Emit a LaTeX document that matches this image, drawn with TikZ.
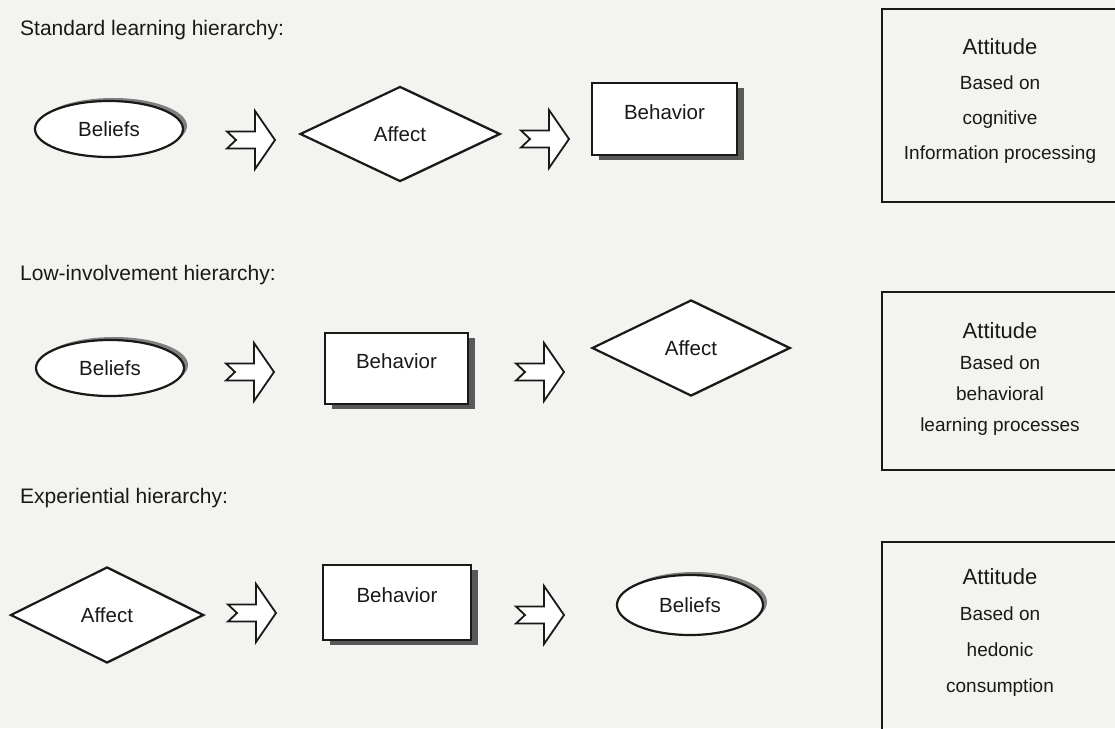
\documentclass[tikz,border=0pt]{standalone}
\usepackage{fontspec}
\setmainfont{Liberation Sans}
\usetikzlibrary{shapes.geometric,shadows}
\definecolor{paper}{RGB}{243,243,240}
\definecolor{ink}{RGB}{25,25,25}
\begin{document}
\begin{tikzpicture}[x=1pt,y=-1pt,
  every node/.style={text=ink},
  shapetext/.style={font=\fontsize{20.5}{24}\selectfont},
  title/.style={anchor=west, inner sep=0pt, font=\fontsize{21}{25}\selectfont},
  outl/.style={draw=ink, line width=2.2pt, fill=white},
  ovalbox/.style={outl, shapetext, ellipse, inner sep=0pt,
    minimum width=148pt, minimum height=56pt,
    drop shadow={shadow xshift=4pt, shadow yshift=3pt, fill=black!50, opacity=1}},
  rhombus/.style={outl, shapetext, diamond, inner sep=0pt, aspect=2,
    minimum width=200pt, minimum height=95pt,
    drop shadow={shadow xshift=3pt, shadow yshift=0pt, fill=black!45, opacity=1}},
  rectbox/.style={outl, shapetext, rectangle, inner sep=0pt,
    minimum width=145pt, minimum height=72pt, text depth=14pt,
    drop shadow={shadow xshift=7pt, shadow yshift=-5pt, fill=black!65, opacity=1}},
  attbox/.style={draw=ink, line width=2.2pt, rectangle, inner sep=0pt,
    minimum width=236pt},
  atttext/.style={align=center, inner sep=0pt},
  notcharrow/.pic={
    \draw[draw=ink, line width=1.8pt, fill=white, line join=miter]
      (-24,-8.5) -- (4,-8.5) -- (4,-29) -- (24,0) -- (4,29) -- (4,8.5)
      -- (-24,8.5) -- (-15,0) -- cycle;}
]
% paper and page frame
\fill[paper] (0,0) rectangle (1115,728);
\useasboundingbox (0,0) rectangle (1115,728);

% ---------- standard learning hierarchy ----------
\node[title] (h1) at (20,30) {Standard learning hierarchy:};
\node[ovalbox] (s1) at (109,129) {Beliefs};
\pic (sa1) at (251,140) {notcharrow};
\node[rhombus] (s2) at (400,134) {Affect};
\pic (sa2) at (545,139) {notcharrow};
\node[rectbox] (s3) at (664.5,119) {Behavior};
\node[attbox, minimum height=193pt] (k1) at (1000,105.5) {};
\node[atttext, font=\fontsize{19}{35}\selectfont] (k1t) at (1000,101)
  {{\fontsize{22}{35}\selectfont Attitude}\\ Based on\\ cognitive\\ Information processing};

% ---------- low-involvement hierarchy ----------
\node[title] (h2) at (20,275) {Low-involvement hierarchy:};
\node[ovalbox] (l1) at (110,368) {Beliefs};
\pic (la1) at (250,372) {notcharrow};
\node[rectbox, minimum width=143pt, minimum height=71pt] (l2) at (396.5,368.5) {Behavior};
\pic (la2) at (540,372) {notcharrow};
\node[rhombus, minimum width=198pt, minimum height=96pt] (l3) at (691,348) {Affect};
\node[attbox, minimum height=178pt] (k2) at (1000,381) {};
\node[atttext, font=\fontsize{19}{31}\selectfont] (k2t) at (1000,378.5)
  {{\fontsize{22}{31}\selectfont Attitude}\\ Based on\\ behavioral\\ learning processes};

% ---------- experiential hierarchy ----------
\node[title] (h3) at (20,498) {Experiential hierarchy:};
\node[rhombus, minimum width=193pt, minimum height=96pt] (x1) at (107,615) {Affect};
\pic (xa1) at (252,613) {notcharrow};
\node[rectbox, minimum width=148pt, minimum height=75pt] (x2) at (397,602.5) {Behavior};
\pic (xa2) at (540,615) {notcharrow};
\node[ovalbox, minimum width=146pt, minimum height=60pt] (x3) at (690,605) {Beliefs};
\node[attbox, minimum height=200pt, anchor=north] (k3) at (1000,541) {};
\node[atttext, font=\fontsize{19}{36}\selectfont] (k3t) at (1000,632)
  {{\fontsize{22}{36}\selectfont Attitude}\\ Based on\\ hedonic\\ consumption};
\end{tikzpicture}
\end{document}
